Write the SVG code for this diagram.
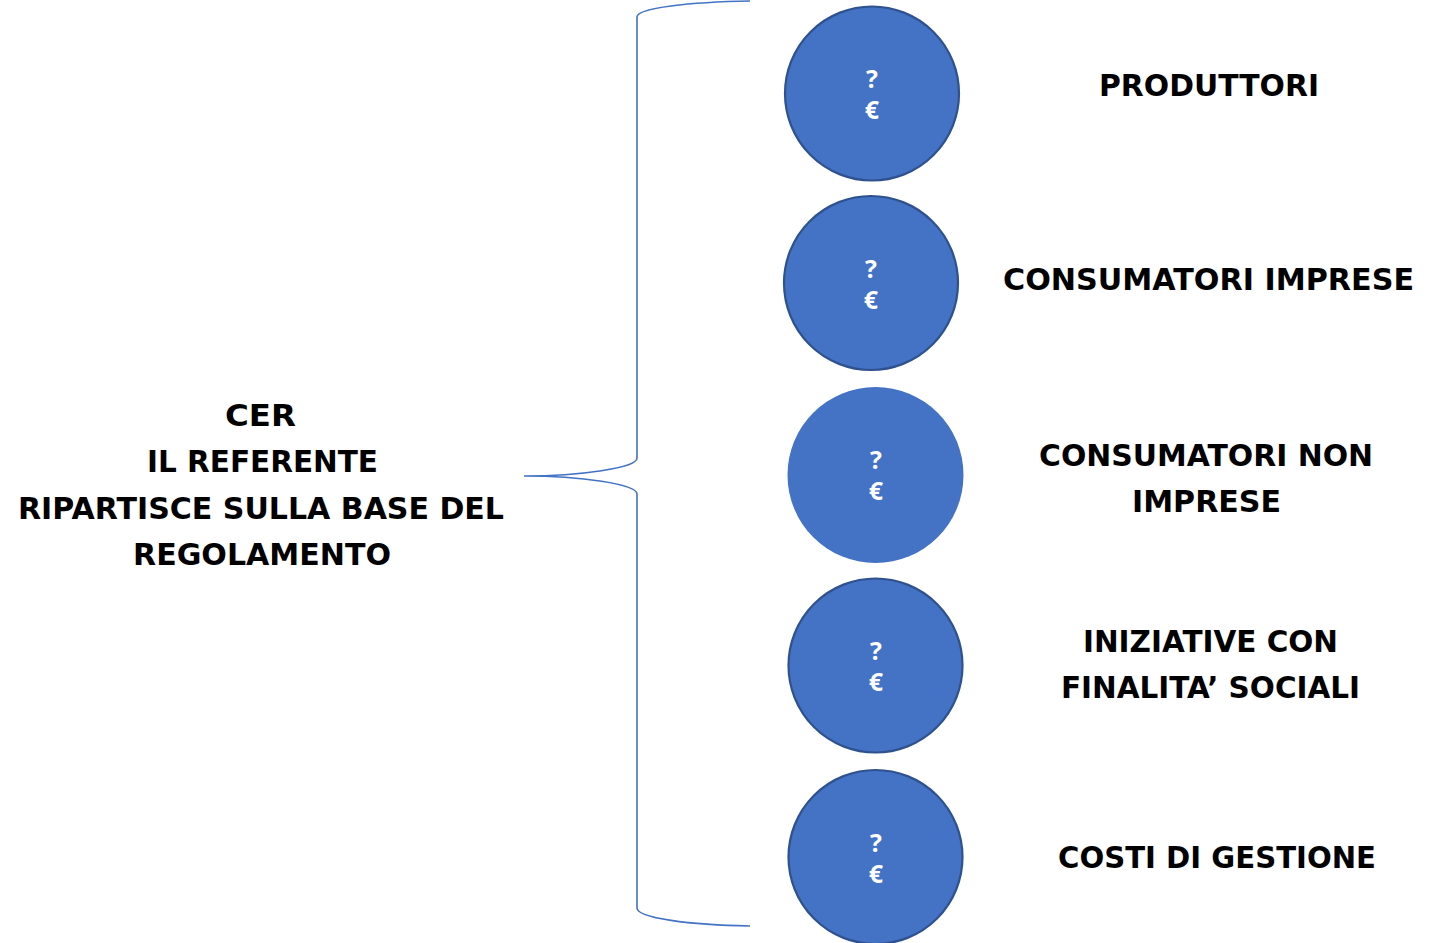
<svg xmlns="http://www.w3.org/2000/svg" width="1440" height="943" viewBox="0 0 1440 943">
<style>
.lbl{font-family:"DejaVu Sans","Liberation Sans",sans-serif;font-weight:bold;font-size:30px;fill:#000}
.circ{fill:#4472C4;stroke:#2F528F;stroke-width:2.2}
.circ.nostroke{stroke:none}
.sym{font-family:"Open Sans","Liberation Sans",sans-serif;font-weight:bold;font-size:25px;fill:#fff;text-anchor:middle}
.brace{fill:none;stroke:#4472C4;stroke-width:1.6}
</style>
<rect width="1440" height="943" fill="#fff"/>
<g id="connectors">
<path class="brace" d="M750,1 C690,2 637,8 637,17 L637,458 C637,468 580,476 524,476 C580,476 637,484 637,494 L637,908 C637,918 690,925 750,926"/>
</g>
<g id="cer">
<text class="lbl" x="225" y="426" textLength="71" lengthAdjust="spacingAndGlyphs">CER</text>
<text class="lbl" x="147" y="472" textLength="231" lengthAdjust="spacingAndGlyphs">IL REFERENTE</text>
<text class="lbl" x="18" y="519" textLength="486" lengthAdjust="spacingAndGlyphs">RIPARTISCE SULLA BASE DEL</text>
<text class="lbl" x="133" y="565" textLength="258" lengthAdjust="spacingAndGlyphs">REGOLAMENTO</text>
</g>
<g id="node1">
<circle class="circ" cx="872" cy="93.5" r="87"/>
<text class="sym" x="872" y="88">?</text>
<text class="sym" x="872" y="119">€</text>
<text class="lbl" x="1099" y="96" textLength="220" lengthAdjust="spacingAndGlyphs">PRODUTTORI</text>
</g>
<g id="node2">
<circle class="circ" cx="871" cy="283" r="87"/>
<text class="sym" x="871" y="277.5">?</text>
<text class="sym" x="871" y="308.5">€</text>
<text class="lbl" x="1003" y="290" textLength="411" lengthAdjust="spacingAndGlyphs">CONSUMATORI IMPRESE</text>
</g>
<g id="node3">
<circle class="circ nostroke" cx="875.5" cy="475" r="88"/>
<text class="sym" x="876" y="469">?</text>
<text class="sym" x="876" y="500">€</text>
<text class="lbl" x="1039" y="466" textLength="334" lengthAdjust="spacingAndGlyphs">CONSUMATORI NON</text>
<text class="lbl" x="1132" y="512" textLength="149" lengthAdjust="spacingAndGlyphs">IMPRESE</text>
</g>
<g id="node4">
<circle class="circ" cx="875.5" cy="665.5" r="87"/>
<text class="sym" x="876" y="660">?</text>
<text class="sym" x="876" y="691">€</text>
<text class="lbl" x="1083" y="652" textLength="255" lengthAdjust="spacingAndGlyphs">INIZIATIVE CON</text>
<text class="lbl" x="1061" y="698" textLength="299" lengthAdjust="spacingAndGlyphs">FINALITA’ SOCIALI</text>
</g>
<g id="node5">
<circle class="circ" cx="875.5" cy="857" r="87"/>
<text class="sym" x="876" y="851.5">?</text>
<text class="sym" x="876" y="882.5">€</text>
<text class="lbl" x="1058" y="868" textLength="318" lengthAdjust="spacingAndGlyphs">COSTI DI GESTIONE</text>
</g>
</svg>
